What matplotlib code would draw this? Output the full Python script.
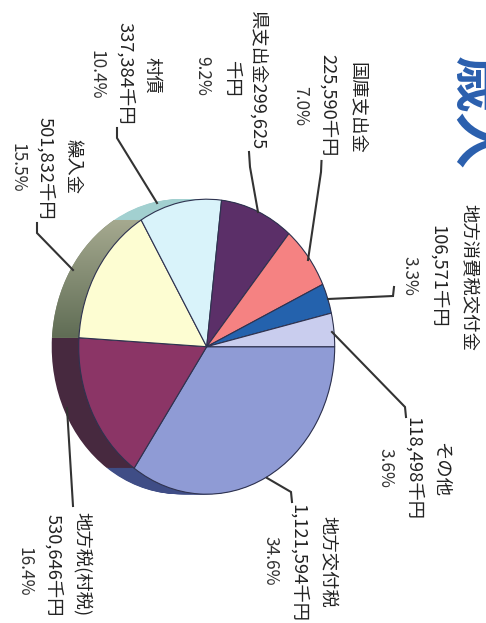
import numpy as np
import matplotlib
matplotlib.use("Agg")
import matplotlib.pyplot as plt
from matplotlib.path import Path

plt.rcParams['font.family'] = ['Noto Sans CJK JP', 'DejaVu Sans']

# clockwise from the right edge of the (rotated) pie
categories = ['地方交付税', '地方税(村税)', '繰入金', '村債', '県支出金299,625', '国庫支出金', '地方消費税交付金', 'その他']
amounts = [1121594, 530646, 501832, 337384, 299625, 225590, 106571, 118498]
amount_labels = ['1,121,594千円', '530,646千円', '501,832千円', '337,384千円', '千円', '225,590千円', '106,571千円', '118,498千円']
percent_labels = ['34.6%', '16.4%', '15.5%', '10.4%', '9.2%', '7.0%', '3.3%', '3.6%']
title = '歳入'

face_colors = ['#8f9bd5', '#8b3566', '#fdfdd2', '#d9f3fa', '#5b2f68', '#f58282', '#2462ad', '#c9cdee']
side_colors = ['#3f4d86', '#47293f', '#7d8570', '#a2d0d0', '#3a2045', '#a05050', '#173f70', '#808499']

W, H = 486, 623
cx, cy, rx, ry = 206.7, 346.7, 128, 147.5
depth = 27 / rx

fig = plt.figure(figsize=(W / 100, H / 100), dpi=100)
ax = fig.add_axes([0, 0, 1, 1])

# side of the pie: same pie stacked to the left
for shift in np.linspace(-depth, 0, 30):
    ax.pie(amounts, colors=side_colors, startangle=0, counterclock=False, center=(shift, 0), radius=1)

# top face
wedges, _ = ax.pie(amounts, colors=face_colors, startangle=0, counterclock=False,
                   wedgeprops={'edgecolor': '#2f3350', 'linewidth': 0.8})
for w in wedges:
    w.set_zorder(3)

xlim = (-cx / rx, (W - cx) / rx)
ylim = ((cy - H) / ry, cy / ry)

# olive side has a light to dark gradient
fr = np.cumsum(amounts) / np.sum(amounts)
t = -np.linspace(fr[1], fr[2], 60) * 2 * np.pi
ox, oy = np.cos(t), np.sin(t)
verts = np.vstack([np.c_[ox - depth, oy], np.c_[ox[::-1], oy[::-1]], [[ox[0] - depth, oy[0]]]])
grad = np.linspace(0, 1, 256).reshape(-1, 1)
im = ax.imshow(grad, extent=(-1.3, 0, 0, 1), aspect='auto', zorder=2, origin='lower',
               cmap=matplotlib.colors.LinearSegmentedColormap.from_list('o', ['#5a6850', '#b2b49a']))
im.set_clip_path(Path(verts), transform=ax.transData)

ax.set_aspect('auto')
ax.set_xlim(xlim)
ax.set_ylim(ylim)
ax.axis('off')

# overlay in pixel coordinates for labels and leaders
ov = fig.add_axes([0, 0, 1, 1], facecolor='none')
ov.set_xlim(0, W)
ov.set_ylim(H, 0)
ov.axis('off')

leaders = [
    [(267, 478), (291, 492), (292, 502)],
    [(67, 408), (73, 506)],
    [(73, 270), (37, 233), (37, 223)],
    [(157, 203), (117, 138), (117, 128)],
    [(258, 212), (250, 167), (249, 152)],
    [(308, 260), (321, 172), (321.5, 161)],
    [(328, 299), (393, 296), (394, 287)],
    [(332, 332), (405, 407), (406, 417)],
]
for pts in leaders:
    ov.plot([p[0] for p in pts], [p[1] for p in pts], color='#333333', lw=1.5, solid_joinstyle='miter')

# (x, y) of name, amount and percent columns
name_pos = [(328, 562), (82, 564), (73, 167), (152, 75), (258, 80), (357, 108), (468, 277), (440, 470)]
amount_pos = [(298, 563), (53, 565), (45, 168), (125, 73), (231, 78), (328, 105), (438, 276), (413, 469)]
percent_pos = [(270, 561), (24, 572), (17, 168), (96, 75), (202, 76), (300, 106), (409, 276), (385, 468)]

for i in range(len(categories)):
    ov.text(*name_pos[i], categories[i], rotation=-90, ha='center', va='center', fontsize=13.2, color='#222222')
    ov.text(*amount_pos[i], amount_labels[i], rotation=-90, ha='center', va='center', fontsize=13.2, color='#222222')
    ov.text(*percent_pos[i], percent_labels[i], rotation=-90, ha='center', va='center', fontsize=12.5, color='#333333')

ov.text(477, 113, title, rotation=-90, ha='center', va='center', fontsize=41, fontweight='bold', color='#2a5fae')

fig.savefig('out.png', dpi=100, facecolor='white')
